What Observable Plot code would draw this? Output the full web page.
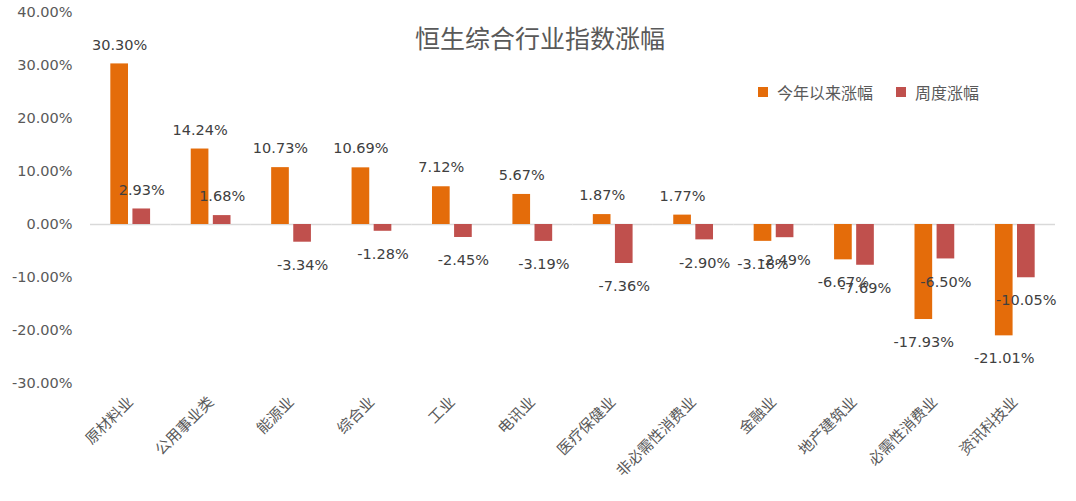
<!DOCTYPE html>
<html>
<head>
<meta charset="utf-8">
<script src="https://cdn.jsdelivr.net/npm/d3@7"></script>
<script src="https://cdn.jsdelivr.net/npm/@observablehq/plot@0.6"></script>
<style>
  html, body { margin: 0; padding: 0; background: #fff; }
  #wrap { position: relative; width: 1076px; height: 501px; font-family: "Noto Sans CJK SC", "Noto Sans", sans-serif; }
  #title { position: absolute; left: 0; width: 1080px; top: 25px; text-align: center; font-size: 25px; color: #595959; line-height: 1; }
  #legend { position: absolute; left: 758px; top: 84px; font-size: 16px; color: #595959; display: flex; align-items: center; line-height: 1; }
  .sw { display: inline-block; width: 10px; height: 10px; margin-right: 9px; }
  .item { display: flex; align-items: center; margin-right: 23px; }
</style>
</head>
<body>
<div id="wrap">
  <div id="chart"></div>
  <div id="title">恒生综合行业指数涨幅</div>
  <div id="legend"></div>
</div>
<script>
const categories = ["原材料业","公用事业类","能源业","综合业","工业","电讯业","医疗保健业","非必需性消费业","金融业","地产建筑业","必需性消费业","资讯科技业"];
const seriesNames = ["今年以来涨幅","周度涨幅"];
const ytdValues = [30.30,14.24,10.73,10.69,7.12,5.67,1.87,1.77,-3.18,-6.67,-17.93,-21.01];
const weeklyValues = [2.93,1.68,-3.34,-1.28,-2.45,-3.19,-7.36,-2.90,-2.49,-7.69,-6.50,-10.05];
const yTicks = [-30,-20,-10,0,10,20,30,40];
const colors = ["#E46C0A","#C0504D"];

const data = [];
categories.forEach((c, i) => {
  data.push({cat: c, series: seriesNames[0], value: ytdValues[i]});
  data.push({cat: c, series: seriesNames[1], value: weeklyValues[i]});
});
const fmt = v => v.toFixed(2) + "%";
const textColor = "#595959";
const numFont = '"DejaVu Sans", "Noto Sans CJK SC", sans-serif';

const chart = Plot.plot({
  width: 1076,
  height: 501,
  marginTop: 12,
  marginBottom: 118,
  marginLeft: 90,
  marginRight: 21,
  style: {fontFamily: '"Noto Sans CJK SC", "Noto Sans", sans-serif', fontSize: "15px", color: textColor, background: "#fff"},
  fx: {domain: categories, padding: 0, round: false, label: null, tickRotate: -45, tickSize: 0, tickPadding: 16, fontSize: 16},
  x: {domain: seriesNames, axis: null, round: false, paddingInner: 0.2, paddingOuter: 0.92},
  y: {domain: [-30, 40], ticks: yTicks, tickFormat: fmt, tickSize: 0, tickPadding: 18, label: null},
  color: {domain: seriesNames, range: colors},
  marks: [
    Plot.ruleY([0], {stroke: "#D9D9D9", strokeWidth: 1.5}),
    Plot.barY(data, {fx: "cat", x: "series", y: "value", fill: "series"}),
    Plot.axisY({ticks: yTicks, tickFormat: fmt, tickSize: 0, tickPadding: 18, fontFamily: numFont, fontSize: 14.5, fill: textColor}),
    Plot.text(data.filter(d => d.value >= 0), {fx: "cat", x: "series", y: "value", text: d => fmt(d.value), dy: -19, fill: "#404040", fontSize: 14.5, fontFamily: numFont}),
    Plot.text(data.filter(d => d.value < 0), {fx: "cat", x: "series", y: "value", text: d => fmt(d.value), dy: 23, fill: "#404040", fontSize: 14.5, fontFamily: numFont})
  ]
});
document.getElementById("chart").appendChild(chart);

const legend = document.getElementById("legend");
seriesNames.forEach((s, i) => {
  const item = document.createElement("span");
  item.className = "item";
  const sw = document.createElement("span");
  sw.className = "sw";
  sw.style.background = colors[i];
  item.appendChild(sw);
  item.appendChild(document.createTextNode(s));
  legend.appendChild(item);
});
</script>
</body>
</html>
